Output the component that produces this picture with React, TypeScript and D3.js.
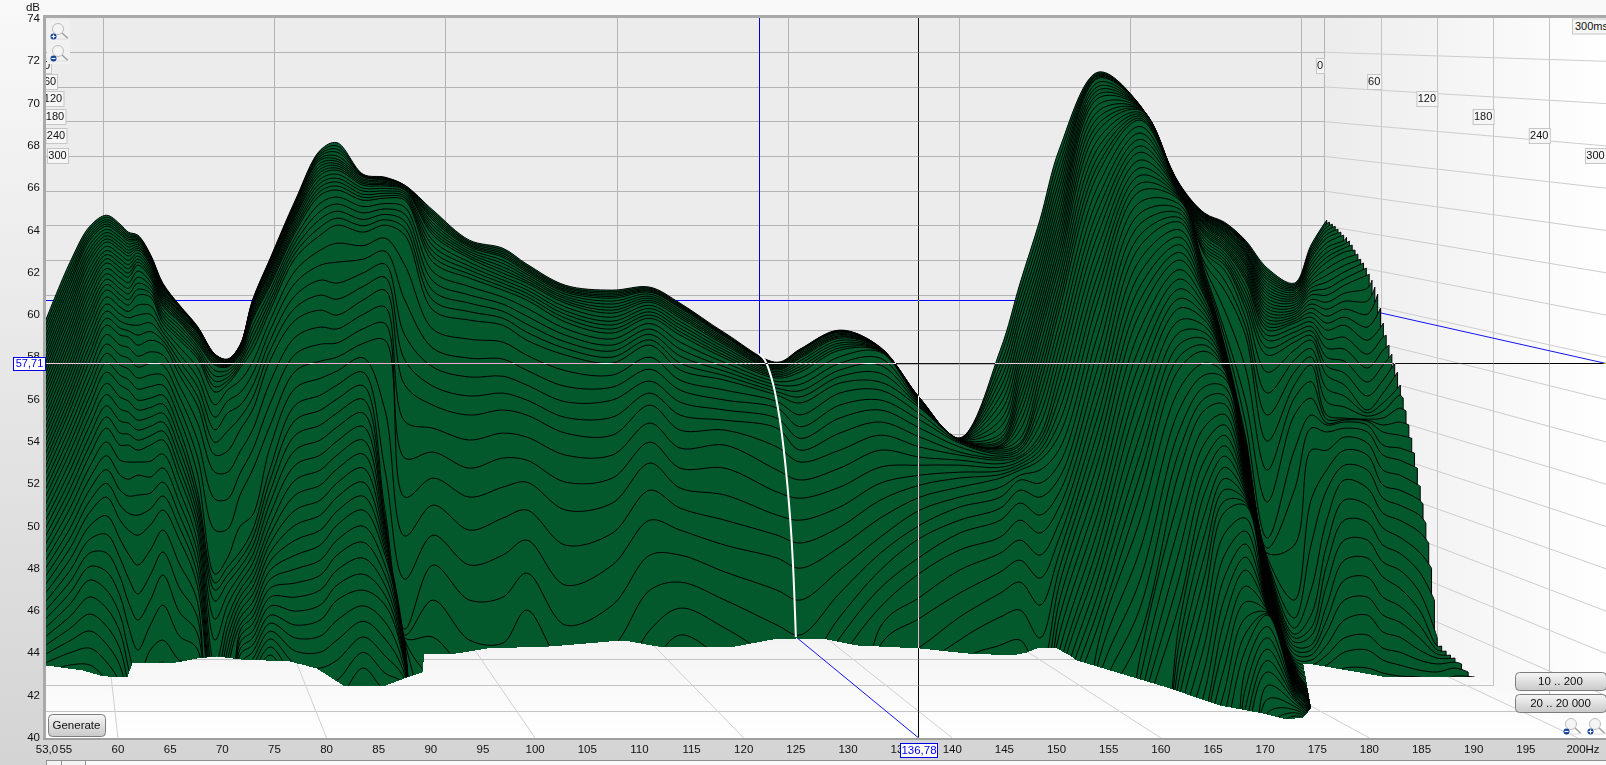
import * as d3 from "d3";

// Measurement is a waterfall: slices run from the back wall (0 ms) to the front plane (300 ms).
const dbTicks = [40, 42, 44, 46, 48, 50, 52, 54, 56, 58, 60, 62, 64, 66, 68, 70, 72, 74];
const hzTicks = [55, 60, 65, 70, 75, 80, 85, 90, 95, 100, 105, 110, 115, 120, 125, 130, 135, 140, 145, 150, 155, 160, 165, 170, 175, 180, 185, 190, 195];
const gridHz = [60, 80, 100, 120, 140, 160, 180, 200];
const timeLabels = [0, 60, 120, 180, 240, 300];
const leftLabelEdge = [51, 57, 63.5, 65.5, 66.5, 68];
const labelCenterY = [66, 82, 99, 117, 136, 156];

const cursorHz = 136.78;
const cursorDb = 57.71;

// Frequency of each data column, read against the front axis
const columnHz = [53, 55.4, 57.3, 58.9, 60.2, 61, 61.9, 63.1, 64.3, 65.9, 67.6, 69.3, 70.5, 71.7, 72.9, 74.6, 77, 79.4, 81, 83.5, 85.6, 87.5,
  90.2, 93.7, 96.9, 99.2, 102.9, 107.4, 111, 113.9, 118.2, 123.2, 125.4, 129.2, 133.1, 136.9, 140.7,
  144.6, 146.5, 148.4, 150.3, 154, 158, 161.8, 164.2, 166.1, 168.1, 170.2, 172.8, 174.4,
  175.9, 177.6, 179.8, 181.3, 182.9, 184.8, 186.5, 188.2, 190.1];
// First slice that reaches each column (slices get shorter towards the back)
const columnFirstSlice = [0, 0, 0, 0, 0, 0, 0, 0, 0, 0, 0, 0, 0, 0, 0, 0, 0, 0, 0, 0, 0, 0,
  0, 0, 0, 0, 0, 0, 0, 0, 0, 0, 0, 0, 0, 0, 0,
  0, 0, 0, 0, 0, 0, 0, 0, 0, 0, 0, 0, 0,
  0, 6, 14, 20, 26, 33, 39, 43, 46];
// Level in hundredths of a dB per column, slice by slice; a column stops once the slice is under the floor
const columnLevels = [
  [5967,5942,5918,5893,5869,5844,5817,5792,5766,5741,5716,5689,5661,5634,5607,5579,5550,5520,5491,5461,5432,5401,5370,5339,5307,5276,5241,5206,5171,5136,5101,5063,5025,4988,4950,4912,4874,4836,4799,4761,4723,4682,4642,4601,4561,4520,4478,4437,4395,4354,4312],
  [6250,6228,6206,6185,6163,6141,6116,6090,6065,6039,6014,5986,5957,5929,5900,5872,5841,5810,5778,5747,5716,5683,5650,5617,5584,5551,5511,5471,5432,5392,5352,5308,5265,5221,5178,5134,5087,5040,4992,4945,4898,4845,4792,4739,4686,4633,4575,4518,4460,4403,4345],
  [6420,6407,6394,6380,6367,6354,6333,6312,6292,6271,6250,6224,6197,6171,6144,6118,6088,6058,6027,5997,5967,5931,5895,5859,5823,5787,5744,5702,5659,5617,5574,5527,5480,5432,5385,5338,5284,5230,5176,5122,5068,5004,4940,4875,4811,4747,4667,4586,4506,4425,4345],
  [6472,6462,6451,6441,6430,6420,6405,6390,6375,6360,6345,6325,6305,6286,6266,6246,6220,6195,6169,6144,6118,6085,6052,6018,5985,5952,5908,5863,5819,5774,5730,5677,5624,5571,5518,5465,5400,5335,5269,5204,5139,5051,4963,4875,4787,4699,4614,4529,4444,4359,4274],
  [6430,6421,6411,6402,6392,6383,6368,6353,6337,6322,6307,6286,6265,6245,6224,6203,6177,6150,6124,6097,6071,6038,6005,5971,5938,5905,5858,5811,5763,5716,5669,5612,5556,5499,5442,5385,5314,5243,5172,5101,5030,4940,4850,4761,4671,4581,4501,4420,4340,4259,4179],
  [6392,6384,6375,6367,6358,6350,6336,6322,6307,6293,6279,6259,6239,6219,6199,6179,6153,6126,6100,6073,6047,6017,5987,5956,5926,5896,5846,5796,5745,5695,5645,5593,5541,5489,5437,5385,5305,5224,5144,5063,4983,4870,4756,4643,4529,4416,4331,4246,4160,4075,3990],
  [6378,6372,6367,6361,6356,6350,6341,6333,6324,6316,6307,6293,6279,6264,6250,6236,6208,6179,6151,6122,6094,6047,6000,5952,5905,5858,5806,5754,5702,5650,5598,5551,5503,5456,5408,5361,5305,5243,5149,5054,4959,4818,4681,4558,4416,4274,4161,4047,3934,3820,3707],
  [6288,6284,6280,6277,6273,6269,6262,6256,6249,6243,6236,6224,6212,6199,6187,6175,6157,6139,6121,6103,6085,6044,6003,5963,5922,5881,5826,5771,5717,5662,5607,5563,5518,5474,5429,5385,5309,5234,5158,5083,5007,4889,4771,4652,4534,4416,4312,4208,4104,4000,3896],
  [6151,6146,6142,6137,6132,6127,6119,6112,6104,6097,6089,6080,6070,6061,6051,6042,6026,6010,5994,5978,5962,5941,5920,5900,5879,5858,5811,5763,5716,5668,5621,5579,5536,5494,5451,5409,5343,5277,5210,5144,5078,4983,4879,4770,4628,4463,4359,4255,4151,4047,3943],
  [6047,6044,6041,6039,6036,6033,6027,6021,6016,6010,6004,5997,5989,5982,5974,5967,5950,5933,5915,5898,5881,5848,5815,5782,5749,5716,5664,5612,5560,5508,5456,5411,5365,5320,5274,5229,5170,5112,5053,4995,4936,4822,4709,4595,4482,4368,4264,4160,4056,3952,3848],
  [5948,5946,5944,5942,5940,5938,5933,5929,5924,5920,5915,5905,5896,5886,5877,5867,5853,5839,5824,5810,5796,5752,5707,5663,5618,5574,5494,5413,5333,5252,5172,5134,5096,5059,5021,4983,4931,4879,4827,4775,4723,4647,4572,4496,4421,4345,4246,4146,4047,3947,3848],
  [5815,5814,5813,5813,5812,5811,5808,5805,5802,5799,5796,5789,5783,5776,5770,5763,5738,5712,5687,5661,5636,5576,5517,5457,5398,5338,5257,5130,4983,4775,4733,4699,4647,4562,4463,4345,4255,4165,4075,3985,3896],
  [5792,5791,5790,5789,5788,5787,5784,5781,5779,5776,5773,5769,5765,5762,5758,5754,5738,5722,5705,5689,5673,5645,5593,5536,5451,5357,5257,5130,4988,4851,4808,4770,4733,4680,4628,4567,4518,4469,4419,4370,4321],
  [5858,5857,5856,5855,5854,5853,5850,5847,5845,5842,5839,5833,5828,5822,5817,5811,5799,5786,5774,5761,5749,5690,5632,5573,5515,5456,5354,5251,5149,5000,4879,4843,4807,4771,4735,4699,4666,4633,4600,4567,4534,4506,4477,4449,4420,4392,4349,4307,4264,4222,4179],
  [6071,6068,6065,6062,6059,6056,6051,6047,6042,6038,6033,6022,6010,5999,5987,5976,5948,5919,5891,5862,5834,5777,5721,5664,5608,5551,5456,5362,5267,5054,4983,4943,4904,4864,4825,4785,4749,4713,4677,4641,4605,4572,4539,4505,4472,4439,4406,4373,4340,4307,4274],
  [6269,6264,6260,6255,6251,6246,6237,6229,6220,6212,6203,6191,6178,6166,6153,6141,6117,6094,6070,6047,6023,5976,5929,5881,5834,5787,5685,5583,5480,5378,5276,5222,5168,5115,5061,5007,4964,4922,4879,4837,4794,4751,4709,4666,4624,4581,4543,4505,4468,4430,4392],
  [6543,6536,6530,6523,6517,6510,6501,6491,6482,6472,6463,6449,6435,6420,6406,6392,6367,6343,6318,6294,6269,6210,6152,6093,6035,5976,5896,5815,5735,5654,5574,5503,5432,5362,5291,5220,5149,5078,5007,4936,4865,4799,4733,4666,4600,4534,4473,4411,4350,4288,4227],
  [6780,6771,6761,6752,6742,6733,6719,6705,6690,6676,6662,6643,6624,6605,6586,6567,6529,6491,6454,6416,6378,6307,6236,6165,6094,6023,5943,5862,5782,5701,5621,5550,5480,5409,5338,5267,5196,5125,5054,4983,4912,4841,4770,4700,4629,4558,4482,4406,4331,4255,4179],
  [6815,6800,6785,6770,6752,6737,6727,6716,6706,6695,6685,6666,6647,6629,6610,6591,6558,6525,6491,6458,6425,6340,6250,6151,6075,6000,5934,5868,5801,5735,5669,5603,5537,5470,5404,5338,5272,5206,5139,5073,5007,4936,4865,4794,4723,4652,4557,4463,4368,4274,4179],
  [6666,6663,6660,6658,6655,6652,6644,6637,6629,6622,6614,6600,6586,6571,6557,6543,6513,6483,6452,6422,6392,6328,6264,6199,6135,6071,6003,5935,5866,5798,5730,5666,5602,5537,5473,5409,5343,5277,5210,5144,5078,5002,4926,4851,4775,4699,4625,4552,4478,4405,4331],
  [6652,6649,6646,6644,6641,6638,6632,6627,6621,6616,6610,6599,6587,6576,6564,6553,6527,6502,6476,6451,6425,6364,6302,6241,6179,6118,6039,5960,5881,5551,5267,5078,5040,5016,5005,4983,4959,4936,4912,4889,4865,4818,4771,4723,4676,4629,4549,4468,4388,4307,4227],
  [6614,6613,6612,6612,6611,6610,6606,6602,6599,6595,6591,6581,6572,6562,6553,6543,6510,6477,6444,6411,6378,6236,6071,5905,5787,5669,5497,5324,5139,4955,4751,4515,4487,4473,4463,4454,4444,4435,4425,4416,4406,4394,4382,4370,4357,4345,4321,4298,4274,4250,4227],
  [6496,6487,6477,6468,6458,6449,6435,6421,6406,6392,6378,6352,6327,6301,6276,6250,6205,6160,6114,6069,6023,5933,5843,5754,5664,5574,5465,5352,5229,5101,4959,4818,4652,4477,4274,4085],
  [6354,6347,6341,6334,6328,6321,6311,6300,6290,6279,6269,6250,6231,6213,6194,6175,6135,6095,6056,6016,5976,5886,5796,5707,5617,5527,5409,5276,5139,4983,4818,4652,4463,4298,4144,3990],
  [6316,6308,6299,6291,6282,6274,6259,6244,6228,6213,6198,6182,6166,6150,6134,6118,6085,6052,6018,5985,5952,5872,5792,5711,5631,5551,5442,5324,5186,5040,4865,4666,4449,4250,4085,3943],
  [6241,6233,6226,6218,6211,6203,6193,6182,6172,6161,6151,6135,6119,6103,6087,6071,6033,5995,5957,5919,5881,5810,5739,5669,5598,5527,5423,5314,5210,5078,4936,4780,4605,4425,4250,4085],
  [6141,6134,6128,6121,6115,6108,6098,6087,6077,6066,6056,6038,6020,6003,5985,5967,5936,5905,5873,5842,5811,5737,5663,5590,5516,5442,5338,5210,5078,4912,4723,4534,4345,4179,4038,3896],
  [6118,6110,6103,6095,6088,6080,6066,6052,6037,6023,6009,5990,5971,5953,5934,5915,5887,5858,5830,5801,5773,5716,5659,5598,5517,5432,5338,5229,5111,4969,4818,4628,4430,4227,4085,3943],
  [6132,6127,6122,6118,6113,6108,6099,6089,6080,6070,6061,6046,6031,6015,6000,5985,5960,5934,5909,5883,5858,5801,5744,5688,5631,5574,5489,5399,5300,5172,5030,4865,4699,4510,4331,4156],
  [6056,6051,6047,6042,6038,6033,6023,6014,6004,5995,5985,5969,5953,5937,5921,5905,5872,5839,5806,5773,5740,5692,5645,5588,5527,5456,5371,5276,5182,5087,4983,4865,4737,4614,4487,4345,4203],
  [5915,5911,5907,5904,5900,5896,5888,5881,5873,5866,5858,5846,5833,5821,5808,5796,5775,5754,5734,5713,5692,5645,5598,5551,5503,5456,5385,5276,5149,5030,4912,4785,4652,4520,4368,4227],
  [5777,5774,5771,5769,5766,5763,5758,5754,5749,5745,5740,5732,5725,5717,5710,5702,5686,5670,5654,5637,5621,5591,5560,5512,5465,5376,5267,5163,5054,4959,4851,4699,4534,4368,4227,4085],
  [5839,5837,5835,5833,5831,5829,5822,5816,5809,5803,5796,5783,5770,5756,5743,5730,5701,5672,5642,5613,5584,5528,5472,5417,5361,5305,5220,5134,5030,4922,4803,4652,4487,4321,4179,4038],
  [5929,5927,5925,5923,5921,5919,5913,5908,5902,5897,5891,5880,5868,5857,5845,5834,5803,5772,5740,5709,5678,5631,5574,5513,5442,5361,5276,5186,5092,4997,4903,4794,4685,4572,4473,4368],
  [5848,5847,5846,5846,5845,5844,5843,5842,5841,5840,5839,5837,5835,5833,5831,5829,5825,5796,5763,5725,5683,5645,5598,5551,5494,5432,5361,5281,5205,5125,5040,4950,4874,4794,4709,4619,4525,4439,4321],
  [5607,5606,5605,5605,5604,5603,5602,5601,5600,5599,5598,5596,5594,5592,5590,5588,5582,5577,5571,5566,5560,5532,5503,5465,5423,5376,5328,5290,5243,5196,5139,5078,5007,4945,4856,4780,4666,4567,4430,4298],
  [5418,5418,5417,5417,5416,5416,5415,5415,5414,5414,5413,5412,5411,5410,5409,5408,5408,5407,5406,5405,5404,5399,5394,5376,5352,5338,5314,5290,5257,5229,5186,5139,5092,5030,4969,4889,4794,4685,4572,4463,4345,4227],
  [5834,5801,5763,5730,5692,5655,5617,5579,5541,5503,5470,5437,5418,5404,5395,5385,5381,5377,5372,5368,5361,5352,5343,5333,5324,5314,5297,5280,5263,5246,5229,5186,5139,5087,5030,4950,4874,4785,4685,4572,4439,4312,4179],
  [6151,6113,6075,6037,6000,5962,5919,5877,5834,5796,5758,5721,5683,5645,5607,5569,5532,5494,5456,5418,5395,5385,5371,5361,5347,5333,5324,5309,5295,5281,5267,5243,5220,5172,5111,5030,4936,4841,4737,4605,4463,4331,4203],
  [6449,6411,6373,6336,6298,6260,6224,6188,6152,6116,6080,6043,6006,5970,5933,5896,5851,5805,5760,5714,5669,5622,5575,5527,5480,5432,5408,5385,5361,5338,5314,5267,5205,5139,5054,4969,4865,4756,4628,4473,4321,4203,4085,4006,3928,3849],
  [6789,6752,6715,6678,6642,6605,6568,6531,6494,6457,6420,6383,6346,6310,6273,6236,6194,6153,6111,6070,6028,5969,5911,5852,5794,5735,5675,5616,5556,5497,5437,5369,5301,5233,5165,5097,5024,4951,4879,4806,4733,4654,4575,4497,4418,4340,4260,4179,4116,4053,3990],
  [7149,7143,7137,7132,7126,7120,7101,7082,7064,7045,7026,6996,6965,6935,6904,6874,6833,6793,6752,6712,6671,6614,6557,6501,6444,6387,6324,6261,6197,6134,6071,5992,5914,5835,5757,5678,5604,5530,5457,5383,5309,5230,5150,5071,4991,4912,4836,4761,4685,4610,4534,4447,4360,4274,4180,4085],
  [6993,6992,6991,6990,6989,6988,6987,6986,6985,6984,6983,6980,6977,6975,6972,6969,6959,6950,6941,6931,6922,6892,6861,6831,6800,6770,6733,6696,6660,6623,6586,6534,6482,6430,6378,6326,6263,6199,6136,6072,6009,5931,5854,5776,5699,5621,5526,5432,5337,5243,5149,5030,4889,4747,4614,4482,4380,4279,4179,4106,4033],
  [6619,6617,6615,6614,6612,6610,6608,6606,6604,6602,6600,6598,6596,6595,6593,6591,6589,6587,6585,6583,6581,6578,6575,6573,6570,6567,6562,6557,6553,6548,6543,6522,6501,6481,6460,6439,6403,6368,6332,6296,6260,6215,6170,6124,6079,6033,5976,5919,5863,5806,5749,5653,5557,5460,5364,5267,5141,5015,4890,4764,4638,4551,4464,4377,4290,4203,4113,4023,3934,3844,3754],
  [6482,6479,6476,6474,6471,6468,6464,6460,6457,6453,6449,6443,6437,6432,6426,6420,6412,6403,6395,6386,6378,6364,6350,6335,6321,6307,6295,6283,6246,6225,6203,6191,6178,6166,6153,6141,6130,6119,6107,6096,6085,6063,6041,6020,5998,5976,5947,5917,5888,5858,5829,5773,5717,5662,5606,5551,5472,5394,5315,5237,5158,5061,4963,4866,4768,4671,4558,4445,4331,4218,4104,4025,3945,3866,3786,3707],
  [6439,6435,6431,6428,6424,6420,6414,6409,6403,6398,6392,6384,6377,6369,6362,6354,6345,6335,6326,6316,6307,6293,6279,6264,6250,6236,6212,6165,6118,6024,5929,5894,5858,5850,5842,5834,5828,5823,5817,5812,5806,5800,5794,5789,5783,5777,5770,5762,5755,5747,5740,5721,5702,5661,5620,5579,5530,5481,5431,5382,5333,5280,5227,5174,5121,5068,4966,4864,4762,4660,4558,4446,4335,4223,4112,4000],
  [6354,6348,6343,6337,6332,6326,6318,6311,6303,6296,6288,6278,6267,6257,6246,6236,6222,6208,6193,6179,6165,6139,6112,6086,6059,6033,5990,5948,5905,5752,5598,5494,5428,5414,5399,5385,5376,5366,5357,5347,5338,5331,5325,5318,5312,5305,5297,5289,5282,5274,5267,5258,5248,5239,5229,5220,5209,5197,5186,5174,5163,5151,5138,5126,5113,5101,5040,4978,4917,4855,4794,4718,4643,4567,4492,4416,4324,4232,4140,4049,3957],
  [6222,6211,6199,6188,6176,6165,6151,6137,6122,6108,6094,6078,6062,6046,6030,6014,5997,5980,5963,5946,5929,5905,5881,5846,5811,5730,5631,5527,5404,5267,5116,4945,4898,4874,4856,4841,4833,4826,4818,4811,4803,4796,4790,4783,4777,4770,4763,4757,4750,4744,4737,4729,4722,4714,4707,4699,4692,4686,4679,4673,4666,4660,4655,4649,4644,4638,4632,4627,4621,4616,4610,4604,4598,4593,4587,4581,4527,4474,4420,4366,4312,4248,4183,4119,4054,3990],
  [6151,6144,6138,6131,6125,6118,6109,6099,6090,6080,6071,6060,6048,6037,6025,6014,6004,5993,5983,5972,5962,5941,5919,5896,5872,5834,5787,5730,5669,5607,5527,5361,5172,4912,4652,4567,4520,4491,4473,4454,4435,4416,4397,4378,4368,4359,4353,4348,4342,4337,4331,4327,4323,4320,4316,4312,4308,4304,4301,4297,4293,4289,4285,4282,4278,4274,4270,4266,4263,4259,4255,4249,4244,4238,4233,4227,4217,4208,4198,4189,4179,4164,4149,4134,4119,4104],
  [6331,6319,6306,6294,6281,6269,6251,6233,6215,6197,6179,6162,6145,6128,6111,6094,6073,6052,6032,6011,5990,5968,5946,5925,5903,5881,5841,5802,5763,5685,5607,5527,5465,5361,5125,4912,4699,4581,4520,4482,4439,4416,4392,4368,4345,4321,4293,4265,4245,4224,4203,4199,4195,4191,4188,4184,4180,4176,4172,4169,4165,4163,4161,4158,4156,4154,4152,4149,4147,4145,4142,4137,4132,4126,4121,4115,4110,4104,4099,4093,4088,4083,4077,4072,4066,4061],
  [6449,6432,6415,6398,6381,6364,6341,6318,6296,6273,6250,6219,6188,6156,6125,6094,6061,6028,5995,5962,5929,5886,5844,5801,5759,5716,5653,5590,5527,5508,5489,5480,5447,5361,5267,5172,5030,4912,4818,4723,4628,4558,4501,4439,4392,4345,4298,4236],
  [6373,6354,6336,6317,6298,6267,6235,6204,6172,6141,6103,6065,6028,5990,5952,5895,5839,5782,5726,5669,5617,5565,5513,5508,5503,5494,5465,5423,5361,5290,5220,5125,5030,4936,4841,4747,4652,4558,4473,4406,4331,4250],
  [6222,6189,6127,6066,6004,5943,5881,5815,5749,5683,5617,5551,5537,5522,5508,5503,5498,5480,5447,5395,5338,5267,5182,5101,5021,4936,4851,4761,4666,4581,4487,4416,4331,4255],
  [5962,5896,5834,5763,5692,5631,5584,5546,5513,5480,5447,5385,5338,5267,5196,5134,5063,4993,4912,4832,4761,4666,4581,4501,4425,4368,4307,4246],
  [5669,5621,5560,5494,5432,5371,5314,5243,5172,5101,5030,4950,4874,4794,4709,4624,4548,4477,4406,4345,4293,4236],
  [5191,5125,5054,4974,4879,4785,4690,4605,4534,4473,4416,4368,4321,4288,4227],
  [4463,4435,4416,4397,4378,4350,4312,4265,4203],
  [4392,4359,4331,4293,4227],
  [4288,4203],
];
// Level where each of the short slices ends on the right (the saw-tooth edge)
const sliceEndLevels = [6449,6439,6430,6420,6406,6392,6378,6368,6350,6331,6307,6288,6264,6246,6222,6193,6165,6132,6099,6033,5962,5905,5858,5815,5773,5730,5669,5607,5546,5480,5418,5347,5276,5191,5106,5016,4922,4803,4652,4473,4435,4411,4392,4378,4350,4312,4288];
const floorLevel = 3200;
const sliceCount = 86;

// Lower silhouette of the surface
const edgeHz = [53.1,56.64,58.27,59.71,60.86,61.34,65.66,67.57,69.49,71.7,76.49,79.08,81.76,85.41,87.71,89.15,89.34,92.5,95.38,101.42,107.17,109.09,111.68,115.8,118.68,122.8,125.1,127.98,130.85,136.89,141.4,145.81,147.15,148.11,150.03,151.28,151.95,160.58,165.66,169.78,172.08,173.62,174.38,174,173.62,174.58,180.71,181.67,190.11];
const edgeDb = [43.45,43.22,42.98,42.88,42.88,43.55,43.59,43.78,43.88,43.74,43.64,43.31,42.46,42.46,42.88,43.12,43.97,44.02,44.26,44.35,44.59,44.59,44.35,44.3,44.3,44.68,44.73,44.68,44.4,44.26,44.02,43.92,44.07,44.26,44.26,43.92,43.69,42.41,41.56,41.18,40.9,40.99,41.42,42.41,43.5,43.5,42.98,42.88,42.88];

// White trace of the picked frequency through the slices
const traceHz = [121.46, 122.03, 122.8, 123.47, 123.95, 124.43, 124.72, 125];
const traceDb = [58.16, 57.87, 56.78, 55.04, 53.14, 50.54, 48.27, 44.78];

const W = 1606;
const H = 765;
const PLOT = { left: 46, top: 18, right: 1606, bottom: 738 };
const FONT = "'Liberation Sans', Arial, sans-serif";

const xScale = d3.scaleLinear().domain([53, 200]).range([45, 1578]);
const yScale = d3.scaleLinear().domain([40, 74]).range([738, 19]);
const depthScale = d3.scaleLinear().domain([0, 300]).range([0.821, 1]);
const maxHz = xScale.invert(PLOT.right);

// Perspective towards the vanishing point behind the top left corner
const project = (hz: number, db: number, ms: number): [number, number] => {
  const s = depthScale(ms);
  return [36 + (xScale(hz) - 36) * s, 11 + (yScale(db) - 11) * s];
};

const sliceEndHz = d3.scaleLinear().domain([0, 39, 43, 46]).range([175.9, 186.5, 188.2, 190.1]).clamp(true);
const curvedLine = d3.line<[number, number]>().curve(d3.curveCatmullRom.alpha(0.5));

const slicePath = (slice: number) => {
  const endHz = sliceEndHz(slice);
  const pts: [number, number][] = [];
  columnHz.forEach((hz, i) => {
    const offset = slice - columnFirstSlice[i];
    if (offset < 0 || (slice <= 46 && hz > endHz - 0.15)) return;
    pts.push([xScale(hz), yScale((columnLevels[i][offset] ?? floorLevel) / 100)]);
  });
  if (slice <= 46) pts.push([xScale(endHz), yScale(sliceEndLevels[slice] / 100)]);
  return `${curvedLine(pts)}V920H0Z`;
};

const Magnifier = ({ x, y, plus }: { x: number; y: number; plus: boolean }) => (
  <g transform={`translate(${x},${y})`}>
    <circle cx={9} cy={7} r={5.5} fill="#f4f4f4" stroke="#bdbdbd" />
    <path d="M13 11L19 16.5" stroke="#a0a0a0" strokeWidth={1.5} />
    <path d="M3 17H19" stroke="#dedede" />
    <circle cx={4.5} cy={14.5} r={3} fill="#123f9e" />
    <path d={plus ? "M2.5 14.5H6.5M4.5 12.5V16.5" : "M2.5 14.5H6.5"} stroke="#fff" strokeWidth={1.2} />
  </g>
);

const Button = ({ x, y, w, h, label }: { x: number; y: number; w: number; h: number; label: string }) => (
  <g>
    <rect x={x + 0.5} y={y + 0.5} width={w} height={h} rx={4} fill="url(#buttonFill)" stroke="#7d7d7d" />
    <text x={x + w / 2} y={y + h / 2 + 0.5} textAnchor="middle" dominantBaseline="middle" fontSize={11.5} fill="#111">{label}</text>
  </g>
);

const TimeLabel = ({ right, cy, label }: { right: number; cy: number; label: number }) => {
  const w = [8, 14, 21][String(label).length - 1];
  return (
    <g>
      <rect x={right - w + 0.5} y={cy - 7.5} width={w} height={15} fill="#f6f6f6" stroke="#c6c6c6" />
      <text x={right - w / 2} y={cy + 0.5} textAnchor="middle" dominantBaseline="middle" fontSize={11} fill="#111">{label}</text>
    </g>
  );
};

export default function App() {
  const edgePoints: [number, number][] = edgeHz.map((hz, i) => [xScale(hz), yScale(edgeDb[i])]);
  const edgeClip = `M0,0L0,${edgePoints[0][1]}L${edgePoints.map((p) => p.join(",")).join("L")}L${W},${edgePoints[edgePoints.length - 1][1]}L${W},0Z`;
  const floorY = project(60, 40, 0)[1];
  const wallX = project(maxHz, 40, 0)[0];
  const backDb = d3.range(42, 74, 2);
  const cursorBack = project(cursorHz, cursorDb, 0);
  const cursorFront = project(cursorHz, cursorDb, 300);
  const traceLine = d3.line<number>().x((hz) => xScale(hz)).y((_, i) => yScale(traceDb[i])).curve(d3.curveCatmullRom);
  const slices = d3.range(sliceCount);

  return (
    <svg width={W} height={H} viewBox={`0 0 ${W} ${H}`} fontFamily={FONT} style={{ position: "fixed", left: 0, top: 0, display: "block" }}>
      <defs>
        <linearGradient id="pageFill" x1="0" x2="0" y1="0" y2="1">
          <stop offset="0" stopColor="#f9f9f9" />
          <stop offset="1" stopColor="#d4d4d4" />
        </linearGradient>
        <linearGradient id="sideFill" x1="0" x2="1" y1="0" y2="0">
          <stop offset="0" stopColor="#ececec" />
          <stop offset="1" stopColor="#ffffff" />
        </linearGradient>
        <linearGradient id="floorFill" x1="0" x2="0" y1="0" y2="1">
          <stop offset="0" stopColor="#f0f0f0" />
          <stop offset="1" stopColor="#ffffff" />
        </linearGradient>
        <linearGradient id="buttonFill" x1="0" x2="0" y1="0" y2="1">
          <stop offset="0" stopColor="#f6f6f6" />
          <stop offset="1" stopColor="#c9c9c9" />
        </linearGradient>
        <clipPath id="plotClip">
          <rect x={PLOT.left} y={PLOT.top} width={PLOT.right - PLOT.left} height={PLOT.bottom - PLOT.top} />
        </clipPath>
        <clipPath id="edgeClip">
          <path d={edgeClip} />
        </clipPath>
      </defs>

      <rect width={W} height={H} fill="url(#pageFill)" />

      <g clipPath="url(#plotClip)">
        <rect x={wallX} y={PLOT.top} width={PLOT.right - wallX} height={PLOT.bottom - PLOT.top} fill="url(#sideFill)" />
        <rect x={PLOT.left} y={PLOT.top} width={wallX - PLOT.left} height={floorY - PLOT.top} fill="#ececec" />
        <path d={`M${PLOT.left},${floorY}H${wallX}L${PLOT.right},${PLOT.bottom}H${PLOT.left}Z`} fill="url(#floorFill)" />

        <g shapeRendering="crispEdges">
          {/* back wall grid */}
          {backDb.map((db) => {
            const [x2, y] = project(maxHz, db, 0);
            return <line key={db} x1={PLOT.left} x2={x2} y1={y} y2={y} stroke="#b4b4b4" />;
          })}
          {gridHz.map((hz) => {
            const [x, y] = project(hz, 40, 0);
            return <line key={hz} x1={x} x2={x} y1={PLOT.top} y2={y} stroke="#b4b4b4" />;
          })}
          <line x1={wallX} x2={wallX} y1={PLOT.top} y2={floorY} stroke="#b4b4b4" />
          {timeLabels.slice(1, -1).map((ms) => {
            const [x, y] = project(maxHz, 40, ms);
            return (
              <g key={ms}>
                <line x1={x} x2={x} y1={PLOT.top} y2={y} stroke="#c4c4c4" />
                <line x1={PLOT.left} x2={x} y1={y} y2={y} stroke="#c4c4c4" />
              </g>
            );
          })}
        </g>

        {/* side wall grid */}
        {backDb.map((db) => {
          const a = project(maxHz, db, 0);
          const b = project(maxHz, db, 300);
          return <line key={db} x1={a[0]} x2={b[0]} y1={a[1]} y2={b[1]} stroke="#cdcdcd" />;
        })}

        {/* floor grid */}
        {gridHz.map((hz) => {
          const a = project(hz, 40, 0);
          const b = project(hz, 40, 300);
          return <line key={hz} x1={a[0]} x2={b[0]} y1={a[1]} y2={b[1]} stroke="#d0d0d0" />;
        })}

        {/* cursor as seen on the walls and floor */}
        <g shapeRendering="crispEdges">
          <line x1={PLOT.left} x2={wallX} y1={cursorBack[1]} y2={cursorBack[1]} stroke="#0000ff" />
          <line x1={cursorBack[0] - 1} x2={cursorBack[0] - 1} y1={PLOT.top} y2={cursorFront[1]} stroke="#0000cc" />
        </g>
        <line x1={wallX} y1={cursorBack[1]} x2={PLOT.right} y2={cursorFront[1]} stroke="#1414f0" />
        <line x1={xScale(traceHz[traceHz.length - 1])} y1={yScale(traceDb[traceDb.length - 1])} x2={cursorFront[0]} y2={PLOT.bottom} stroke="#1414f0" />

        {timeLabels.map((ms, i) => (
          <TimeLabel key={ms} right={leftLabelEdge[i]} cy={labelCenterY[i]} label={ms} />
        ))}
        {timeLabels.map((ms, i) => (
          <TimeLabel key={ms} right={project(maxHz, 40, ms)[0] - (i === 0 ? 1 : 0)} cy={labelCenterY[i]} label={ms} />
        ))}

        {/* waterfall, back to front */}
        <g clipPath="url(#edgeClip)">
          {slices.map((slice) => (
            <path key={slice} d={slicePath(slice)} fill="#03592c" stroke="#000" strokeWidth={1} strokeLinejoin="round" />
          ))}
        </g>

        <path d={traceLine(traceHz) ?? ""} fill="none" stroke="#fff" strokeWidth={2} />

        {/* crosshair inverts whatever is under it */}
        <g style={{ mixBlendMode: "difference" }} shapeRendering="crispEdges">
          <line x1={PLOT.left} x2={PLOT.right} y1={cursorFront[1]} y2={cursorFront[1]} stroke="#fff" />
          <line x1={cursorFront[0]} x2={cursorFront[0]} y1={PLOT.top} y2={PLOT.bottom} stroke="#fff" />
        </g>

        <g>
          <rect x={1572.5} y={19} width={40} height={15} fill="#f6f6f6" stroke="#c6c6c6" />
          <text x={1575} y={27} dominantBaseline="middle" fontSize={11} fill="#111">300ms</text>
        </g>
      </g>

      {/* frame shadow */}
      <rect x={43} y={15} width={W - 43} height={3} fill="#a9a9a9" />
      <rect x={43} y={15} width={3} height={724} fill="#a9a9a9" />
      <rect x={43} y={738} width={W - 43} height={2} fill="#9f9f9f" />

      <rect x={47} y={20} width={23} height={44} fill="#f1f1f1" />
      <Magnifier x={49} y={22} plus />
      <Magnifier x={49} y={44} plus={false} />
      <Magnifier x={1562} y={717} plus={false} />
      <Magnifier x={1586} y={717} plus />

      <g fontSize={11.5} fill="#111">
        <text x={40} y={8} textAnchor="end" dominantBaseline="middle">dB</text>
        {dbTicks.map((db) => (
          <text key={db} x={40} y={yScale(db)} textAnchor="end" dominantBaseline="middle">{db}</text>
        ))}
        <text x={47} y={750} textAnchor="middle" dominantBaseline="middle">53,0</text>
        {hzTicks.map((hz) => (
          <text key={hz} x={xScale(hz)} y={750} textAnchor="middle" dominantBaseline="middle">{hz}</text>
        ))}
        <text x={1583} y={750} textAnchor="middle" dominantBaseline="middle">200Hz</text>
      </g>

      <Button x={48} y={714} w={57} h={22} label="Generate" />
      <Button x={1515} y={672} w={91} h={18} label="10 .. 200" />
      <Button x={1515} y={694} w={91} h={18} label="20 .. 20 000" />

      {/* cursor read-outs */}
      <rect x={13.5} y={357.5} width={32} height={13} fill="#fff" stroke="#0000e6" />
      <text x={29.5} y={364.5} textAnchor="middle" dominantBaseline="middle" fontSize={11} fill="#0000e6">57,71</text>
      <rect x={900.5} y={743.5} width={37} height={14} fill="#fff" stroke="#0000e6" />
      <text x={919} y={751} textAnchor="middle" dominantBaseline="middle" fontSize={11.5} fill="#0000e6">136,78</text>

      {/* scroll bar at the foot */}
      <rect x={46.5} y={760.5} width={W} height={6} fill="#fafafa" stroke="#8f8f8f" />
      <rect x={46.5} y={760.5} width={15} height={6} fill="#f4f4f4" stroke="#8f8f8f" />
      <rect x={61.5} y={760.5} width={24} height={6} fill="#f4f4f4" stroke="#8f8f8f" />
    </svg>
  );
}
